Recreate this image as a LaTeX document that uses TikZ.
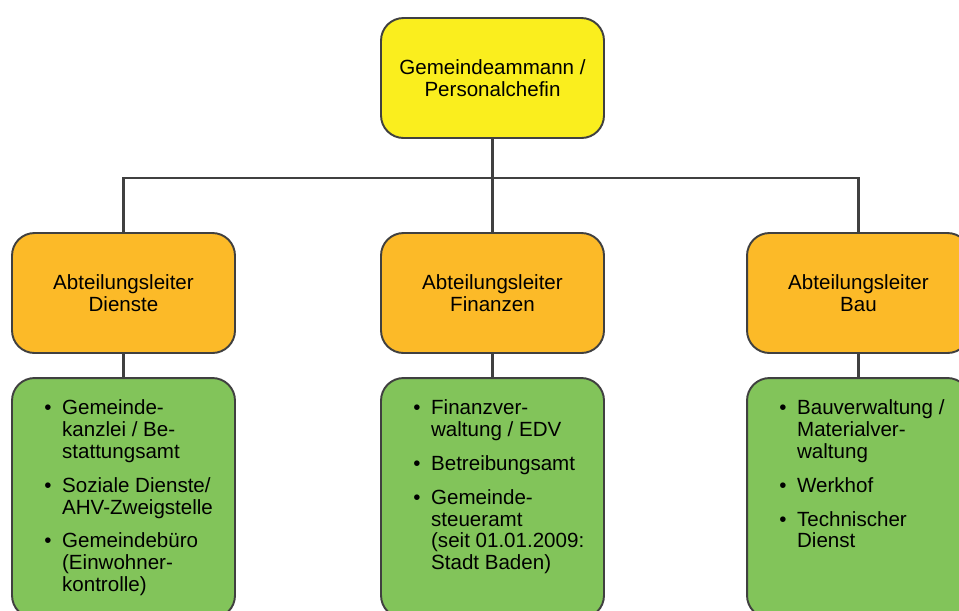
\documentclass[tikz,border=0pt]{standalone}
\usepackage{fontspec}
\setmainfont{Liberation Sans}
\usetikzlibrary{positioning}
\definecolor{chefyellow}{RGB}{250,238,30}
\definecolor{leiterorange}{RGB}{252,186,40}
\definecolor{amtgreen}{RGB}{130,196,90}
\definecolor{linegray}{RGB}{64,64,64}
\newcommand{\amtliste}[1]{\begin{tabular}{@{}l@{\hspace{6pt}}l@{}}#1\end{tabular}}
\begin{document}
\begin{tikzpicture}[x=0.02cm,y=-0.02cm,
    box/.style={draw=linegray, line width=1.1pt, rounded corners=0.45cm,
      minimum width=4.46cm, inner sep=0pt, align=center,
      font=\fontsize{11.7}{12.5}\selectfont},
    chef/.style={box, fill=chefyellow, minimum height=2.4cm},
    leiter/.style={box, fill=leiterorange, minimum height=2.4cm},
    amt/.style={box, fill=amtgreen, minimum height=4.8cm},
    liste/.style={anchor=north west, inner sep=0pt, align=left,
      font=\fontsize{11.7}{12.5}\selectfont},
    link/.style={draw=linegray, line width=1.2pt}]
  \useasboundingbox (0,0) rectangle (959,610);
  \clip (0,0) rectangle (959,610);

  % boxes
  \node[chef] (chef) at (492.5,78) {Gemeindeammann /\\Personalchefin};
  \node[leiter] (dienste) at (123.5,293) {Abteilungsleiter\\Dienste};
  \node[leiter] (finanzen) at (492.5,293) {Abteilungsleiter\\Finanzen};
  \node[leiter] (bau) at (858.5,293) {Abteilungsleiter\\Bau};
  \node[amt] (dienstamt) at (123.5,498) {};
  \node[amt] (finanzamt) at (492.5,498) {};
  \node[amt] (bauamt) at (858.5,498) {};

  % lists
  \node[liste, below right=0.43cm and 0.66cm of dienstamt.north west] (dienstliste) {\amtliste{
    \textbullet & Gemeinde-\\ & kanzlei / Be-\\ & stattungsamt\\[6.8pt]
    \textbullet & Soziale Dienste/\\ & AHV-Zweigstelle\\[6.8pt]
    \textbullet & Gemeindebüro\\ & (Einwohner-\\ & kontrolle)}};
  \node[liste, below right=0.43cm and 0.66cm of finanzamt.north west] (finanzliste) {\amtliste{
    \textbullet & Finanzver-\\ & waltung / EDV\\[6.8pt]
    \textbullet & Betreibungsamt\\[6.8pt]
    \textbullet & Gemeinde-\\ & steueramt\\ & (seit 01.01.2009:\\ & Stadt Baden)}};
  \node[liste, below right=0.43cm and 0.66cm of bauamt.north west] (bauliste) {\amtliste{
    \textbullet & Bauverwaltung /\\ & Materialver-\\ & waltung\\[6.8pt]
    \textbullet & Werkhof\\[6.8pt]
    \textbullet & Technischer\\ & Dienst}};

  % connectors
  \coordinate (verteiler) at (492.5,178);
  \draw[link] (chef.south) -- (verteiler);
  \draw[link] (dienste.north) |- (verteiler) -| (bau.north);
  \draw[link] (verteiler) -- (finanzen.north);
  \draw[link] (dienste.south) -- (dienstamt.north);
  \draw[link] (finanzen.south) -- (finanzamt.north);
  \draw[link] (bau.south) -- (bauamt.north);
\end{tikzpicture}
\end{document}
